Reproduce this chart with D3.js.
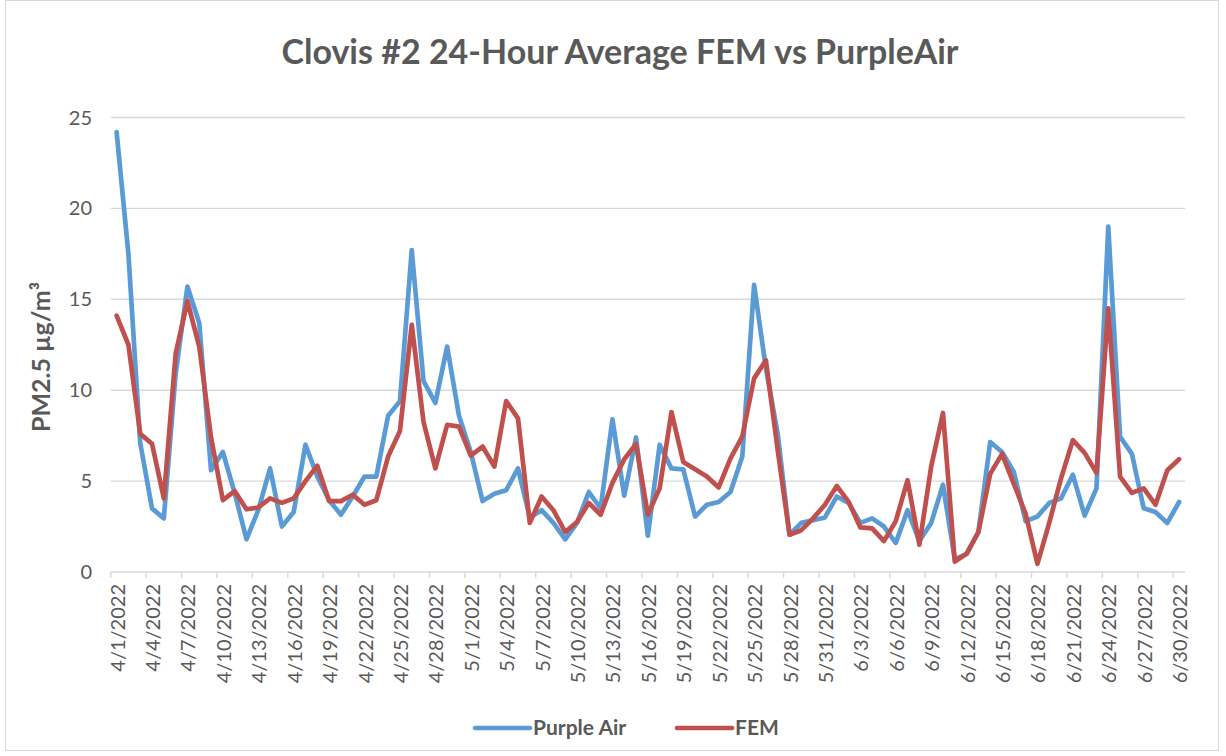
<!DOCTYPE html>
<html>
<head>
<meta charset="utf-8">
<script src="https://cdn.jsdelivr.net/npm/d3@7"></script>
<style>
    body { margin: 0; background: #fff; }
    #chart { display: block; font-family: Lato, "Open Sans", sans-serif; }
</style>
</head>
<body>
<svg id="chart" width="1226" height="756"></svg>
<script>
// 4/1/2022 .. 6/30/2022, one value per day
const startDay = new Date(2022, 3, 1);
const endDay = new Date(2022, 5, 30);
const yTicks = [0, 5, 10, 15, 20, 25];
const seriesNames = ["Purple Air", "FEM"];
const seriesColors = ["#5b9bd5", "#c0504d"];

const purpleAir = [
    24.2, 17.5, 7.1, 3.5, 2.95, 10.9, 15.7, 13.7, 5.6, 6.6,
    4.35, 1.8, 3.4, 5.7, 2.5, 3.3, 7.0, 5.25, 3.95, 3.15,
    4.15, 5.25, 5.25, 8.6, 9.4, 17.7, 10.5, 9.3, 12.4, 8.6,
    6.6, 3.9, 4.3, 4.5, 5.7, 3.0, 3.4, 2.7, 1.8, 2.7,
    4.4, 3.5, 8.4, 4.2, 7.4, 2.0, 7.0, 5.7, 5.65, 3.05,
    3.7, 3.85, 4.4, 6.35, 15.8, 11.2, 7.6, 2.05, 2.7, 2.85,
    3.0, 4.15, 3.8, 2.7, 2.95, 2.5, 1.6, 3.4, 1.7, 2.7,
    4.8, 0.7, 1.0, 2.2, 7.15, 6.6, 5.5, 2.8, 3.05, 3.8,
    4.05, 5.35, 3.1, 4.6, 19.0, 7.45, 6.5, 3.5, 3.3, 2.7,
    3.85
];

const fem = [
    14.1, 12.5, 7.6, 7.05, 4.05, 12.0, 14.9, 12.4, 7.4, 3.95,
    4.45, 3.45, 3.55, 4.05, 3.8, 4.05, 5.0, 5.85, 3.9, 3.9,
    4.25, 3.7, 3.95, 6.35, 7.75, 13.6, 8.25, 5.7, 8.1, 8.0,
    6.4, 6.9, 5.8, 9.4, 8.45, 2.7, 4.15, 3.4, 2.2, 2.75,
    3.8, 3.15, 4.9, 6.2, 7.05, 3.15, 4.6, 8.8, 6.05, 5.65,
    5.25, 4.65, 6.25, 7.45, 10.65, 11.65, 6.7, 2.05, 2.3, 2.95,
    3.7, 4.73, 3.87, 2.45, 2.4, 1.7, 2.8, 5.05, 1.5, 5.8,
    8.75, 0.57, 1.0, 2.2, 5.4, 6.5, 4.85, 3.2, 0.45, 2.7,
    5.15, 7.25, 6.55, 5.45, 14.5, 5.25, 4.35, 4.6, 3.7, 5.6,
    6.2
];

document.addEventListener("DOMContentLoaded", () => {
    const svg = d3.select("#chart");
    const textColor = "#595959";
    const gridColor = "#d9d9d9";

    const dates = d3.timeDay.range(startDay, d3.timeDay.offset(endDay, 1));
    const labels = dates.map(d => `${d.getMonth() + 1}/${d.getDate()}/${d.getFullYear()}`);

    // chart area border
    svg.append("rect")
        .attr("x", 5.5).attr("y", 0.5)
        .attr("width", 1213).attr("height", 750)
        .attr("fill", "none")
        .attr("stroke", gridColor);

    const xScale = d3.scaleBand()
        .domain(labels)
        .range([110.7, 1185])
        .padding(0);
    const yScale = d3.scaleLinear()
        .domain([0, 25])
        .range([572, 117.5]);
    const bw = xScale.bandwidth();

    // gridlines
    svg.append("g")
        .selectAll("line")
        .data(yTicks.filter(t => t > 0))
        .enter()
        .append("line")
        .attr("x1", 110.7).attr("x2", 1185)
        .attr("y1", d => yScale(d)).attr("y2", d => yScale(d))
        .attr("stroke", gridColor)
        .attr("stroke-width", 1.4);

    // x axis line + ticks between categories
    svg.append("line")
        .attr("x1", 110.7).attr("x2", 1185)
        .attr("y1", yScale(0)).attr("y2", yScale(0))
        .attr("stroke", gridColor)
        .attr("stroke-width", 1.4);
    svg.append("g")
        .selectAll("line")
        .data(labels.filter((d, i) => i % 3 === 0))
        .enter()
        .append("line")
        .attr("x1", d => xScale(d)).attr("x2", d => xScale(d))
        .attr("y1", yScale(0)).attr("y2", yScale(0) + 6)
        .attr("stroke", gridColor)
        .attr("stroke-width", 1.4);

    // y tick labels
    svg.append("g")
        .selectAll("text")
        .data(yTicks)
        .enter()
        .append("text")
        .attr("x", 92)
        .attr("y", d => yScale(d))
        .attr("dy", "0.35em")
        .attr("text-anchor", "end")
        .attr("fill", textColor)
        .style("font-size", "20px")
        .text(d => d);

    // x tick labels, rotated
    svg.append("g")
        .selectAll("text")
        .data(labels.filter((d, i) => i % 3 === 0))
        .enter()
        .append("text")
        .attr("transform", d => `translate(${xScale(d) + bw / 2 + 1}, 584) rotate(-90)`)
        .attr("dy", "0.35em")
        .attr("text-anchor", "end")
        .attr("fill", textColor)
        .style("font-size", "20px")
        .text(d => d);

    // series lines
    const line = d3.line()
        .x((d, i) => xScale(labels[i]) + bw / 2)
        .y(d => yScale(d));
    [purpleAir, fem].forEach((values, k) => {
        svg.append("path")
            .datum(values)
            .attr("d", line)
            .attr("fill", "none")
            .attr("stroke", seriesColors[k])
            .attr("stroke-width", 4.7)
            .attr("stroke-linejoin", "round")
            .attr("stroke-linecap", "round");
    });

    // title
    svg.append("text")
        .attr("x", 620).attr("y", 64)
        .attr("text-anchor", "middle")
        .attr("fill", textColor)
        .style("font-size", "34px")
        .style("font-weight", "bold")
        .text("Clovis #2 24-Hour Average FEM vs PurpleAir");

    // y axis title
    svg.append("text")
        .attr("transform", "translate(50, 357) rotate(-90)")
        .attr("text-anchor", "middle")
        .attr("fill", textColor)
        .style("font-size", "25px")
        .style("font-weight", "bold")
        .text("PM2.5 µg/m³");

    // legend
    const legendX = [475, 677];
    seriesNames.forEach((name, k) => {
        svg.append("line")
            .attr("x1", legendX[k]).attr("x2", legendX[k] + 55)
            .attr("y1", 728).attr("y2", 728)
            .attr("stroke", seriesColors[k])
            .attr("stroke-width", 4.7)
            .attr("stroke-linecap", "round");
        svg.append("text")
            .attr("x", legendX[k] + 58).attr("y", 728)
            .attr("dy", "0.35em")
            .attr("fill", textColor)
            .style("font-size", "21px")
            .style("font-weight", "bold")
            .text(name);
    });
});
</script>
</body>
</html>
